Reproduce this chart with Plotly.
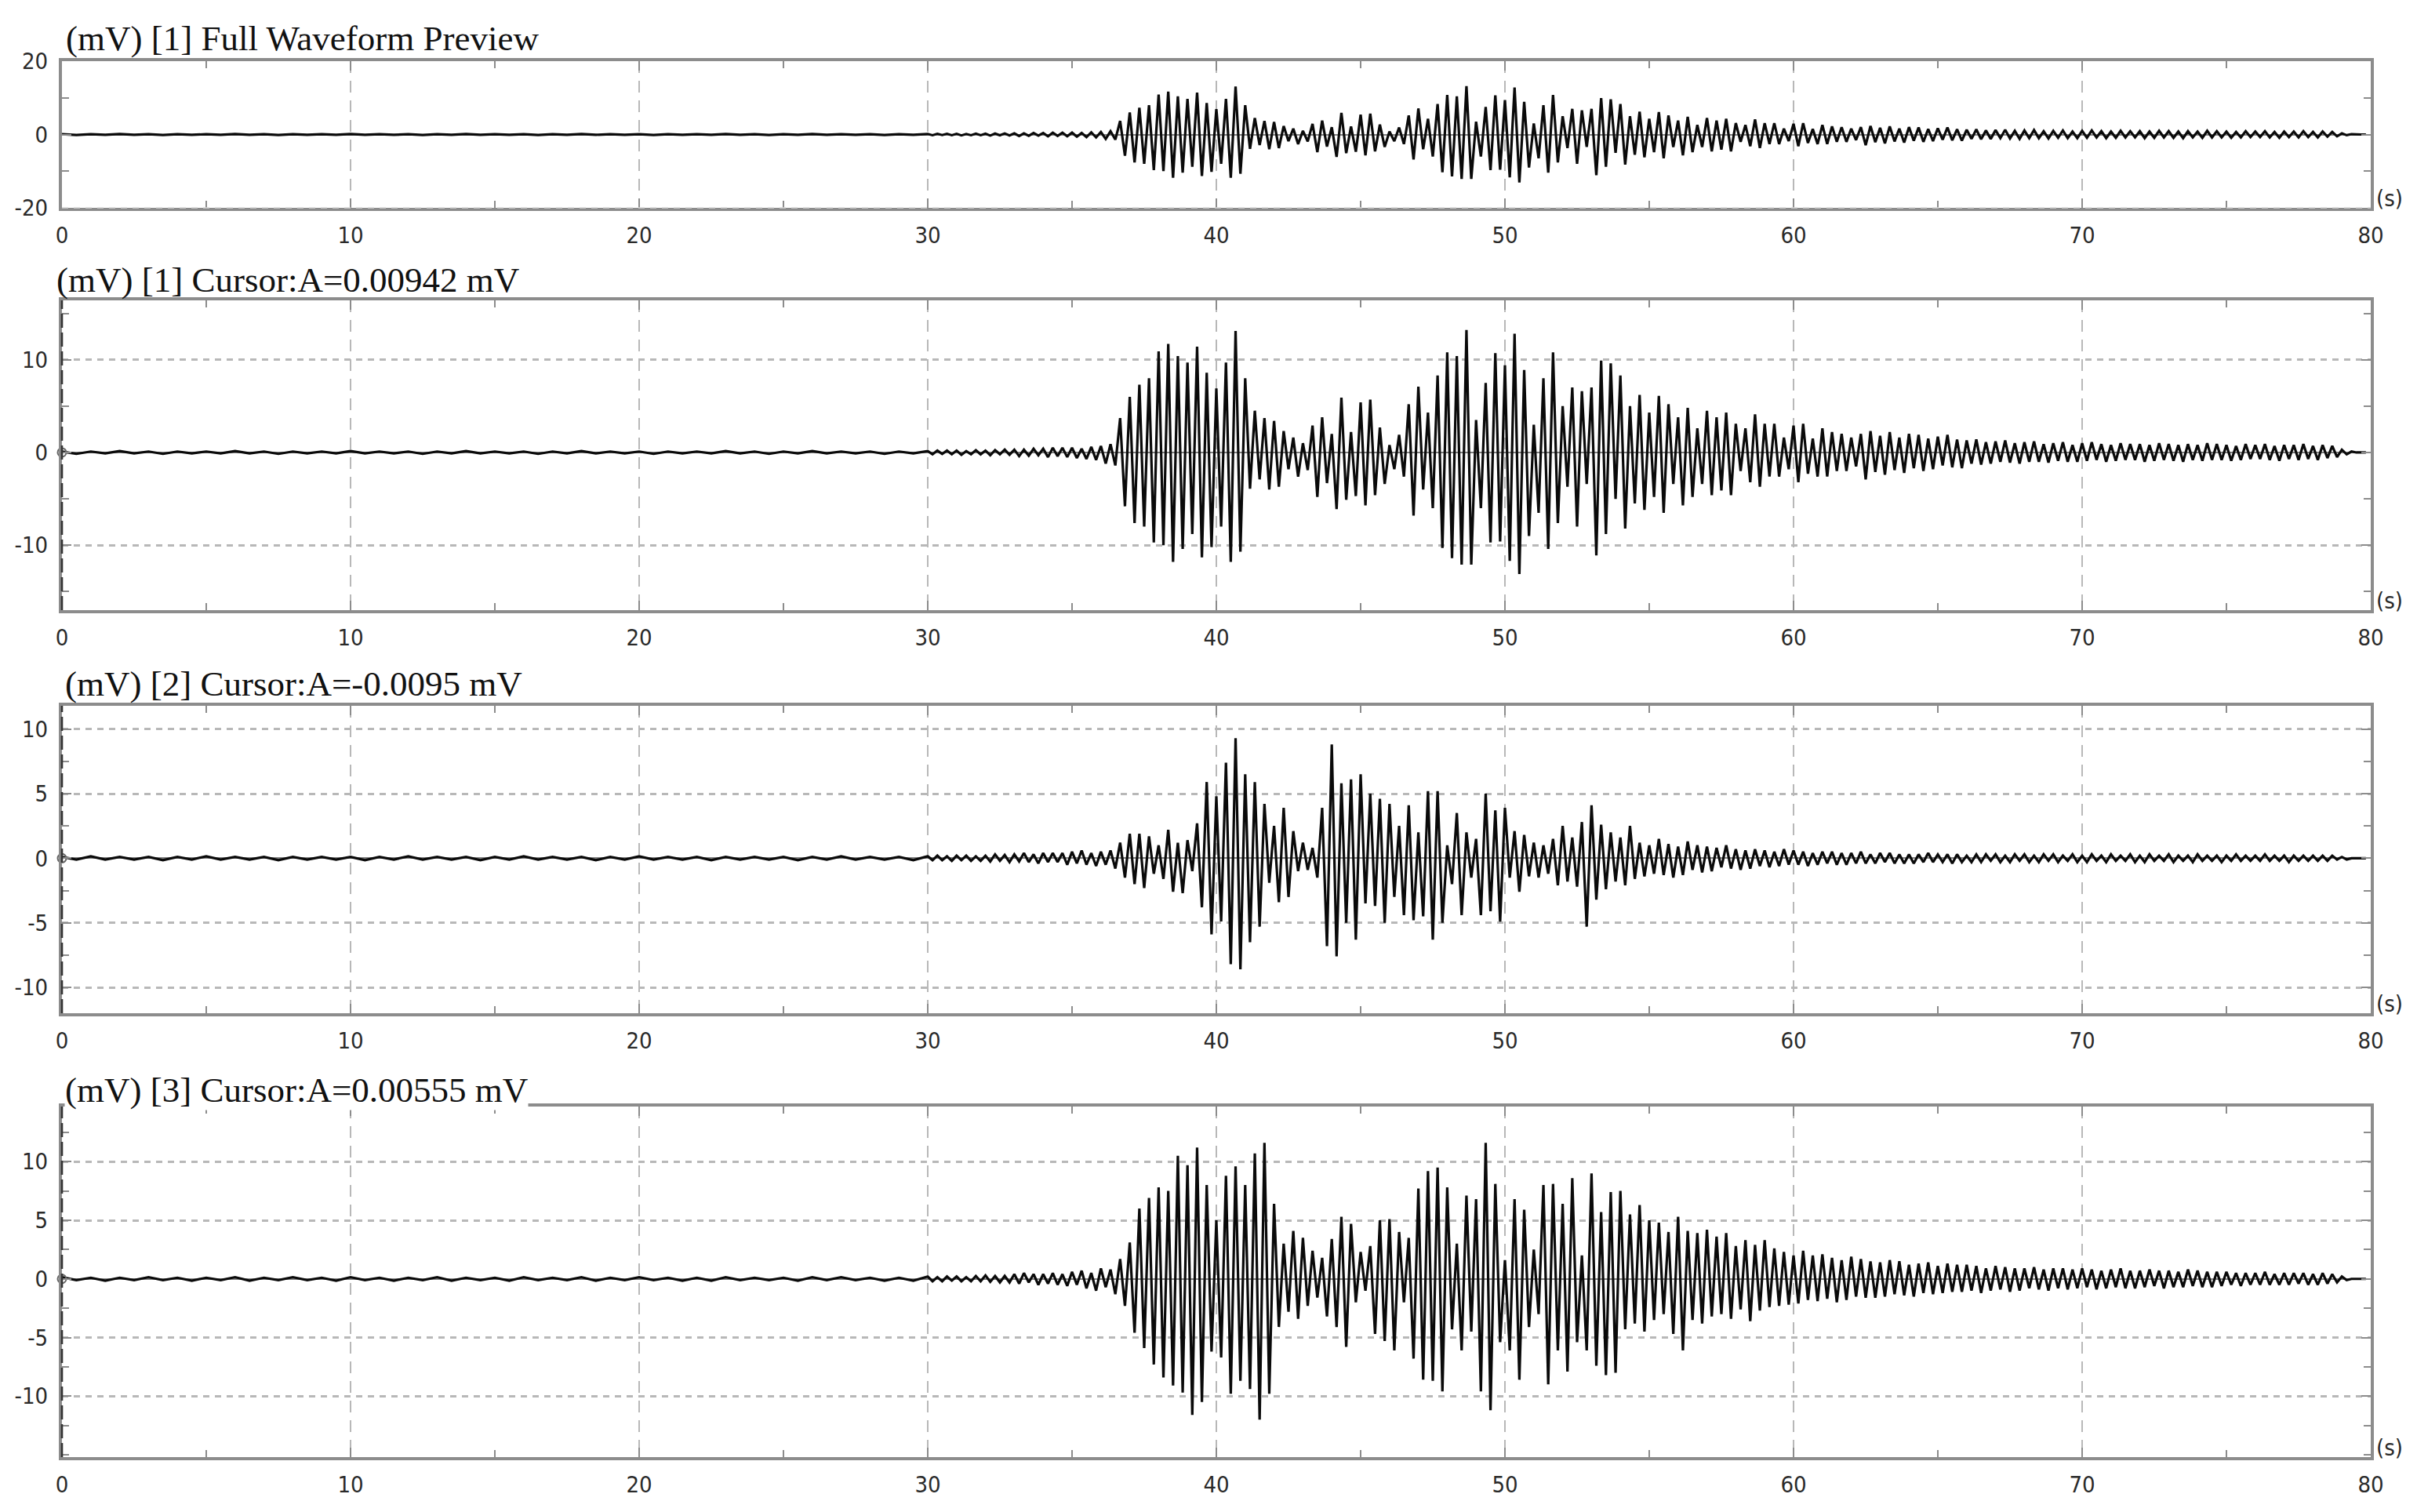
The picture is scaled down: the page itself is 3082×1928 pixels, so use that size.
"""
Four-panel seismic record (one preview + three channels), redrawn with Plotly.
Each active record is stored as its successive peaks / troughs read off the
original plot, six per second; the quiet lead-in is stored at two per second.
"""

import numpy as np
import plotly.graph_objects as go

# ---------------------------------------------------------------- data
QUIET_STEP = 0.5          # s between samples of the quiet part (0 .. 30 s)
ACTIVE_START = 30.0       # s, first sample of the active lists
ACTIVE_STEP = 1 / 6       # s between successive peaks / troughs

CHANNEL_IDS = [1, 2, 3]
PANEL_TITLES = [
    "(mV) [1] Full Waveform Preview",
    "(mV) [1] Cursor:A=0.00942 mV",
    "(mV) [2] Cursor:A=-0.0095 mV",
    "(mV) [3] Cursor:A=0.00555 mV",
]
X_TICKS = [0, 10, 20, 30, 40, 50, 60, 70, 80]
Y_TICKS = [
    [-20, 0, 20],
    [-10, 0, 10],
    [-10, -5, 0, 5, 10],
    [-10, -5, 0, 5, 10],
]
CURSOR_T = [0.0]
CURSOR_V = [0.0]
X_UNIT = "(s)"

CH1_QUIET = [
    0.1, -0.15, 0.1, -0.1, 0.15, -0.1, 0.1, -0.15, 0.1, -0.1,
    0.1, -0.1, 0.15, -0.1, 0.1, -0.15, 0.1, -0.1, 0.1, -0.1,
    0.15, -0.1, 0.1, -0.1, 0.1, -0.15, 0.1, -0.1, 0.15, -0.1,
    0.1, -0.1, 0.1, -0.15, 0.1, -0.1, 0.15, -0.1, 0.1, -0.1,
    0.1, -0.15, 0.1, -0.1, 0.1, -0.1, 0.15, -0.1, 0.1, -0.15,
    0.1, -0.1, 0.15, -0.1, 0.1, -0.1, 0.1, -0.15, 0.1, -0.1,
]
CH1_ACTIVE = [
    # 30 - 36.7 s, before the arrival
    0.15, -0.2, 0.2, -0.15, 0.2, -0.2, 0.2, -0.25, 0.15, -0.2, 0.25, -0.2,
    0.2, -0.3, 0.25, -0.2, 0.3, -0.25, 0.3, -0.4, 0.3, -0.35, 0.4, -0.3,
    0.4, -0.5, 0.5, -0.4, 0.5, -0.5, 0.5, -0.6, 0.4, -0.7, 0.6, -0.8,
    0.7, -1.2, 0.9, -1.4,
    # first burst
    3.7, -5.8, 6.0, -7.6, 7.3, -8.0, 8.0, -9.7, 10.9, -10.0, 11.7, -11.8,
    10.4, -10.4, 9.7, -8.8, 11.4, -11.3, 8.6, -10.2, 6.9, -8.0, 9.7, -11.8,
    13.1, -10.7, 8.0,
    -3.9, 4.5, -2.9, 3.7, -4.0, 3.4, -3.7, 2.3, -1.8, 1.6, -2.6, 1.0,
    -1.9, 2.9, -4.8, 3.8, -3.3,
    2.0, -6.1, 5.9, -5.1, 2.2, -4.7, 5.4, -5.7, 5.7, -4.6, 2.7, -3.4,
    0.8, -1.8, 1.9, -2.6, 5.2, -6.8, 7.1, -4.0, 4.3, -6.0,
    # second burst
    8.3, -10.3, 10.8, -11.4, 10.4, -12.1, 13.2, -12.1, 3.5, -6.0,
    7.5, -9.7, 10.7, -9.6, 9.4, -11.7, 12.8, -13.1, 8.9, -9.0,
    3.0, -6.5, 8.0, -10.4, 10.8, -7.6, 5.0, -3.7, 7.0, -8.0,
    6.6, -3.4, 7.0, -11.1, 9.9, -8.8, 9.6, -5.0, 8.3, -8.2,
    # decay
    5.0, -5.5, 6.2, -6.2, 4.3, -4.8, 6.1, -6.5, 5.2, -3.4,
    3.8, -5.7, 4.8, -4.8, 2.6, -3.4, 4.5, -4.6, 3.8, -4.1,
    4.3, -4.6, 3.1, -2.0, 2.6, -3.2, 4.1, -3.7, 3.1, -2.6,
    3.1, -2.6, 1.6, -1.8, 2.9, -3.2, 3.1, -2.3, 1.5, -2.6,
    2.6, -2.6, 2.2, -2.0, 2.0, -2.0, 1.6, -1.5, 2.0, -2.9,
    # coda
    2.3, -2.1, 1.8, -2.4, 2.2, -1.9, 1.6, -2.2,
    2.0, -1.7, 1.9, -2.0, 1.5, -1.8, 1.7, -1.4, 1.9, -1.6, 1.4, -1.7,
    1.3, -1.2, 1.4, -1.3, 1.1, -1.2, 1.2, -1.0, 1.3, -1.1, 1.0, -1.2,
    1.1, -1.0, 1.2, -1.0, 0.9, -1.1, 1.0, -0.9, 1.1, -1.0, 0.8, -1.0,
    1.0, -0.9, 1.1, -0.8, 0.9, -1.0, 0.8, -0.9, 1.0, -0.8, 0.9, -0.8,
    0.9, -1.0, 0.8, -0.9, 1.0, -0.8, 0.9, -0.9, 0.8, -1.0, 0.9, -0.8,
    0.8, -0.9, 1.0, -0.8, 0.9, -0.8, 0.8, -0.9, 0.7, -0.8, 0.9, -0.7,
    0.8, -0.7, 0.9, -0.8, 0.7, -0.9, 0.8, -0.7, 0.8, -0.8, 0.9, -0.7,
    0.7, -0.8, 0.8, -0.6, 0.7, -0.5,
    0.3, -0.2, 0.1, 0.0, 0.0, 0.0,
]

CH2_QUIET = [
    0.1, -0.1, 0.15, -0.1, 0.1, -0.1, 0.1, -0.15, 0.1, -0.1,
    0.15, -0.1, 0.1, -0.1, 0.1, -0.15, 0.1, -0.1, 0.1, -0.1,
    0.1, -0.15, 0.1, -0.1, 0.15, -0.1, 0.1, -0.1, 0.1, -0.15,
    0.1, -0.1, 0.15, -0.1, 0.1, -0.1, 0.1, -0.15, 0.1, -0.1,
    0.15, -0.1, 0.1, -0.1, 0.1, -0.15, 0.1, -0.1, 0.1, -0.1,
    0.1, -0.15, 0.1, -0.1, 0.15, -0.1, 0.1, -0.1, 0.1, -0.15,
]
CH2_ACTIVE = [
    # 30 - 36.3 s
    0.15, -0.15, 0.2, -0.15, 0.15, -0.2, 0.2, -0.15, 0.2, -0.2, 0.15, -0.2,
    0.2, -0.25, 0.3, -0.2, 0.25, -0.3,
    0.3, -0.25, 0.4, -0.3, 0.3, -0.4, 0.4, -0.3, 0.4, -0.3, 0.4, -0.5,
    0.5, -0.4, 0.6, -0.5, 0.4, -0.6, 0.5, -0.5,
    # weak onset
    0.6, -0.8, 1.2, -1.5, 1.9, -2.0, 1.9, -2.3, 1.7, -1.2, 1.0, -1.6,
    2.2, -2.6, 1.2, -2.7, 1.4, -1.0,
    # first burst
    2.7, -3.8, 5.9, -5.9, 4.8, -4.9, 7.4, -8.2, 9.3, -8.6, 6.5, -6.5,
    5.9, -5.3, 4.2, -1.9,
    2.5, -3.4, 3.9, -3.0, 2.1, -1.0, 1.2, -0.9, 0.8, -1.5,
    # second burst
    3.9, -6.8, 8.8, -7.6, 5.8, -5.0, 6.1, -6.3, 6.5, -3.5,
    5.0, -3.7, 4.6, -5.0, 4.2, -3.0, 2.5, -4.4, 4.1, -4.8,
    2.0, -4.5, 5.2, -6.3, 5.2, -5.0, 1.0, -2.0, 3.5, -4.4,
    2.0, -1.5, 1.5, -4.4, 5.0, -4.1, 3.7, -4.9, 3.9, -1.5,
    # 50.3 - 53.5 s
    2.1, -2.6, 1.8, -1.4, 1.2, -1.5, 1.0, -1.2, 1.5, -2.1,
    2.5, -1.8, 1.6, -2.2, 2.8, -5.3, 4.1, -3.2, 2.6,
    -2.4, 2.0, -1.8, 1.6, -2.1, 2.5, -1.6, 1.2, -1.4, 1.0,
    -1.2, 1.5, -1.3, 1.1, -1.5, 0.9, -1.3, 1.3, -0.9, 1.0, -1.1,
    # coda
    0.9, -1.0, 0.8, -0.7, 1.0, -0.8, 0.7, -0.9, 0.6, -0.8, 0.7, -0.6,
    0.6, -0.7, 0.5, -0.6, 0.7, -0.5, 0.6, -0.5, 0.5, -0.6, 0.4, -0.5,
    0.5, -0.4, 0.5, -0.5, 0.4, -0.5, 0.4, -0.4, 0.5, -0.4, 0.3, -0.4,
    0.4, -0.3, 0.4, -0.4, 0.3, -0.4,
    0.3, -0.4, 0.3, -0.3, 0.4, -0.3, 0.3, -0.3, 0.3, -0.4, 0.3, -0.3,
    0.2, -0.3, 0.3, -0.3, 0.3, -0.2, 0.3, -0.3, 0.2, -0.3, 0.3, -0.2,
    0.3, -0.3, 0.2, -0.3, 0.3, -0.2, 0.3, -0.3, 0.2, -0.2, 0.3, -0.3,
    0.2, -0.3, 0.3, -0.2, 0.2, -0.3, 0.3, -0.2, 0.2, -0.2, 0.3, -0.3,
    0.2, -0.3, 0.3, -0.2, 0.2, -0.2, 0.3, -0.3, 0.2, -0.2, 0.2, -0.3,
    0.3, -0.2, 0.2, -0.2, 0.2, -0.3, 0.2, -0.2, 0.3, -0.2, 0.2, -0.2,
    0.2, -0.2, 0.3, -0.2, 0.2, -0.2, 0.2, -0.3, 0.2, -0.2, 0.2, -0.2,
    0.2, -0.2, 0.2, -0.2, 0.2, -0.1, 0.1, -0.1, 0.0, 0.0, 0.0, 0.0,
]

CH3_QUIET = [
    0.15, -0.1, 0.1, -0.15, 0.1, -0.1, 0.15, -0.1, 0.1, -0.15,
    0.1, -0.1, 0.15, -0.15, 0.1, -0.1, 0.15, -0.1, 0.1, -0.15,
    0.15, -0.1, 0.1, -0.15, 0.1, -0.1, 0.15, -0.15, 0.1, -0.1,
    0.1, -0.15, 0.15, -0.1, 0.1, -0.1, 0.15, -0.15, 0.1, -0.1,
    0.15, -0.1, 0.1, -0.15, 0.1, -0.15, 0.15, -0.1, 0.1, -0.1,
    0.1, -0.15, 0.15, -0.1, 0.15, -0.1, 0.1, -0.15, 0.1, -0.15,
]
CH3_ACTIVE = [
    # 30 - 36.7 s
    0.2, -0.2, 0.15, -0.2, 0.2, -0.15, 0.2, -0.2, 0.15, -0.2, 0.25, -0.2,
    0.3, -0.25, 0.25, -0.3, 0.25, -0.3,
    0.4, -0.4, 0.5, -0.3, 0.4, -0.5, 0.4, -0.4, 0.5, -0.5, 0.4, -0.6,
    0.6, -0.5, 0.7, -0.8, 0.5, -1.0, 0.9, -0.7, 0.8, -1.3,
    # first burst
    1.7, -2.3, 3.1, -4.6, 6.0, -5.9, 6.9, -7.3, 7.8, -8.4,
    7.5, -9.1, 10.5, -9.7, 9.7, -11.6, 11.2, -10.5, 8.0, -6.2,
    5.0, -6.7, 8.8, -9.8, 9.6, -8.7, 8.0, -9.4, 10.7, -12.0,
    11.6, -9.8, 6.4, -4.1, 3.0, -2.8, 4.1, -3.4, 3.5, -2.3,
    2.4, -1.6, 1.8, -3.2, 3.4, -4.1, 5.3, -5.8, 4.7, -2.0,
    2.3, -1.0, 2.8, -4.7, 5.0, -5.3, 5.1, -6.1, 4.0, -2.0,
    # second burst
    3.5, -6.8, 7.7, -8.6, 9.2, -8.7, 9.5, -9.6, 7.8, -4.3,
    3.0, -6.1, 7.1, -4.5, 6.8, -9.6, 11.6,
    -11.2, 8.1, -5.4, 1.6, -6.1, 6.8, -8.6, 5.9, -4.1, 2.5,
    -3.0, 8.0, -9.0, 8.1, -6.1, 6.4, -7.9, 8.6, -5.4, 2.0,
    -6.1, 9.0, -7.4, 5.7, -8.2, 7.4, -8.0, 7.5, -4.3, 5.5,
    -3.8, 6.3, -4.5, 5.0, -3.5, 4.8, -3.0, 4.0, -4.7, 5.3,
    -6.1, 4.1, -3.5, 3.9,
    # coda
    -3.8, 4.2, -3.2, 3.6, -3.0, 3.9, -3.4, 2.8, -2.6, 3.3, -3.6, 2.9,
    -2.7, 3.3, -2.4, 2.6, -2.3, 2.3, -2.2, 2.0, -2.1, 2.4, -1.8, 2.0,
    -1.9, 2.1, -1.7, 1.8, -2.0, 1.6, -1.8, 1.9, -1.5, 1.7, -1.6, 1.5,
    -1.6, 1.4, -1.5, 1.6, -1.3, 1.5, -1.4, 1.2, -1.5, 1.3, -1.2, 1.4,
    -1.3, 1.1, -1.2, 1.3, -1.1, 1.2,
    -1.1, 1.2, -1.0, 1.1, -1.2, 0.9, -1.0, 1.1, -0.9, 1.0, -1.1, 0.9,
    -1.0, 0.9, -0.8, 1.0, -0.9, 0.8, -1.0, 0.9, -0.8, 0.9, -0.9, 0.8,
    -0.8, 0.9, -0.7, 0.8, -0.9, 0.7, -0.8, 0.8, -0.7, 0.9, -0.8, 0.7,
    -0.8, 0.7, -0.7, 0.8, -0.6, 0.7, -0.8, 0.7, -0.7, 0.6, -0.7, 0.8,
    -0.6, 0.7, -0.7, 0.6, -0.7, 0.6,
    -0.6, 0.6, -0.5, 0.5, -0.6, 0.5, -0.5, 0.5, -0.5, 0.6, -0.5, 0.4,
    -0.5, 0.5, -0.5, 0.5, -0.4, 0.5, -0.5, 0.4, -0.5, 0.5, -0.4, 0.4,
    -0.3, 0.2, -0.1, 0.0, 0.0, 0.0, 0.0,
]

# ---------------------------------------------------------------- look
W, H = 3082, 1928
TITLE_FONT = "Liberation Serif, Times New Roman, serif"
TICK_FONT = "Liberation Sans Narrow, Arial Narrow, DejaVu Sans Condensed, sans-serif"
FRAME = "#8c8c8c"
GRID = "#b8b8b8"

X_DOMAIN = [79 / W, 3023 / W]
# (top, bottom) of each plot area in pixels
PANEL_PX = [(78, 265), (383, 778), (900, 1292), (1411, 1858)]
Y_RANGES = [[-20, 20], [-17.0, 16.4], [-12.0, 11.8], [-15.2, 14.7]]
Y_MINOR = [10, 5, 2.5, 2.5]
TITLE_PX = [(83, 49), (71, 357), (82, 872), (82, 1390)]
TITLE_BG = ["rgba(0,0,0,0)", "rgba(0,0,0,0)", "rgba(0,0,0,0)", "white"]


def _record(quiet, active):
    tq = QUIET_STEP * np.arange(len(quiet))
    ta = ACTIVE_START + ACTIVE_STEP * np.arange(len(active))
    return np.concatenate([tq, ta]), np.concatenate([quiet, active])


records = {
    1: _record(CH1_QUIET, CH1_ACTIVE),
    2: _record(CH2_QUIET, CH2_ACTIVE),
    3: _record(CH3_QUIET, CH3_ACTIVE),
}
panel_channel = [1] + CHANNEL_IDS

fig = go.Figure()
layout = dict(
    width=W, height=H,
    margin=dict(l=0, r=0, t=0, b=0, pad=0, autoexpand=False),
    paper_bgcolor="white", plot_bgcolor="white",
    showlegend=False,
)
shapes, annotations = [], []

for p in range(4):
    sfx = "" if p == 0 else str(p + 1)
    xa, ya = "x" + sfx, "y" + sfx
    t, v = records[panel_channel[p]]
    fig.add_trace(go.Scatter(
        x=t, y=v, mode="lines", xaxis=xa, yaxis=ya,
        line=dict(color="#0a0a0a", width=3.2),
        hoverinfo="skip",
    ))
    if p > 0:
        fig.add_trace(go.Scatter(
            x=CURSOR_T, y=CURSOR_V, mode="markers", xaxis=xa, yaxis=ya,
            marker=dict(symbol="circle-open", size=11, color="#666666",
                        line=dict(width=2)),
            cliponaxis=False, hoverinfo="skip",
        ))

    top, bot = PANEL_PX[p]
    layout["xaxis" + sfx] = dict(
        domain=X_DOMAIN, range=[0, 80], anchor=ya, automargin=False,
        tickmode="array", tickvals=X_TICKS, ticktext=[str(x) for x in X_TICKS],
        ticks="inside", ticklen=12, tickwidth=2, tickcolor=FRAME,
        showline=True, linecolor=FRAME, linewidth=4, mirror="allticks",
        showgrid=True, gridcolor=GRID, gridwidth=1.6, griddash="15px,10px",
        zeroline=False,
        minor=dict(dtick=5, tick0=0, ticks="inside", ticklen=9,
                   tickwidth=2, tickcolor=FRAME, showgrid=False),
        tickfont=dict(family=TICK_FONT, size=29, color="#2a2a2a"),
        ticklabelstandoff=6,
    )
    layout["yaxis" + sfx] = dict(
        domain=[1 - bot / H, 1 - top / H], range=Y_RANGES[p], anchor=xa,
        automargin=False,
        tickmode="array", tickvals=Y_TICKS[p], ticktext=[str(y) for y in Y_TICKS[p]],
        ticks="inside", ticklen=12, tickwidth=2, tickcolor=FRAME,
        showline=True, linecolor=FRAME, linewidth=4, mirror="allticks",
        showgrid=p > 0, gridcolor=GRID, gridwidth=2.6, griddash="8px,7px",
        zeroline=True, zerolinecolor="#808080", zerolinewidth=1.5,
        minor=dict(dtick=Y_MINOR[p], tick0=0, ticks="inside", ticklen=9,
                   tickwidth=2, tickcolor=FRAME, showgrid=False),
        tickfont=dict(family=TICK_FONT, size=29, color="#2a2a2a"),
        ticklabelstandoff=8,
    )

    if p > 0:
        # dashed left spine of the channel panels
        shapes.append(dict(
            type="line", xref=xa + " domain", yref=ya + " domain",
            x0=0, x1=0, y0=0, y1=1, layer="above",
            line=dict(color="#333333", width=2.6, dash="18px,6px"),
        ))
    else:
        # dotted bottom border of the preview panel
        shapes.append(dict(
            type="line", xref=xa + " domain", yref=ya + " domain",
            x0=0, x1=1, y0=0, y1=0, layer="above",
            line=dict(color="#d6d6d6", width=1.6, dash="8px,7px"),
        ))

    tx, ty = TITLE_PX[p]
    annotations.append(dict(
        text=PANEL_TITLES[p], xref="paper", yref="paper",
        x=tx / W, y=1 - ty / H, xanchor="left", yanchor="middle",
        showarrow=False, bgcolor=TITLE_BG[p], borderpad=0,
        font=dict(family=TITLE_FONT, size=45, color="#111111"),
    ))
    annotations.append(dict(
        text=X_UNIT, xref=xa + " domain", yref=ya + " domain",
        x=1, y=0, xanchor="left", yanchor="middle", xshift=5, yshift=12,
        showarrow=False,
        font=dict(family=TICK_FONT, size=29, color="#2a2a2a"),
    ))

layout["shapes"] = shapes
layout["annotations"] = annotations
fig.update_layout(**layout)

# the page's default body margin would push the fixed-size figure off its spot
fig.write_html(
    "out.html",
    config=dict(displayModeBar=False),
    post_script="document.body.style.margin='0';document.body.style.overflow='hidden';",
)
